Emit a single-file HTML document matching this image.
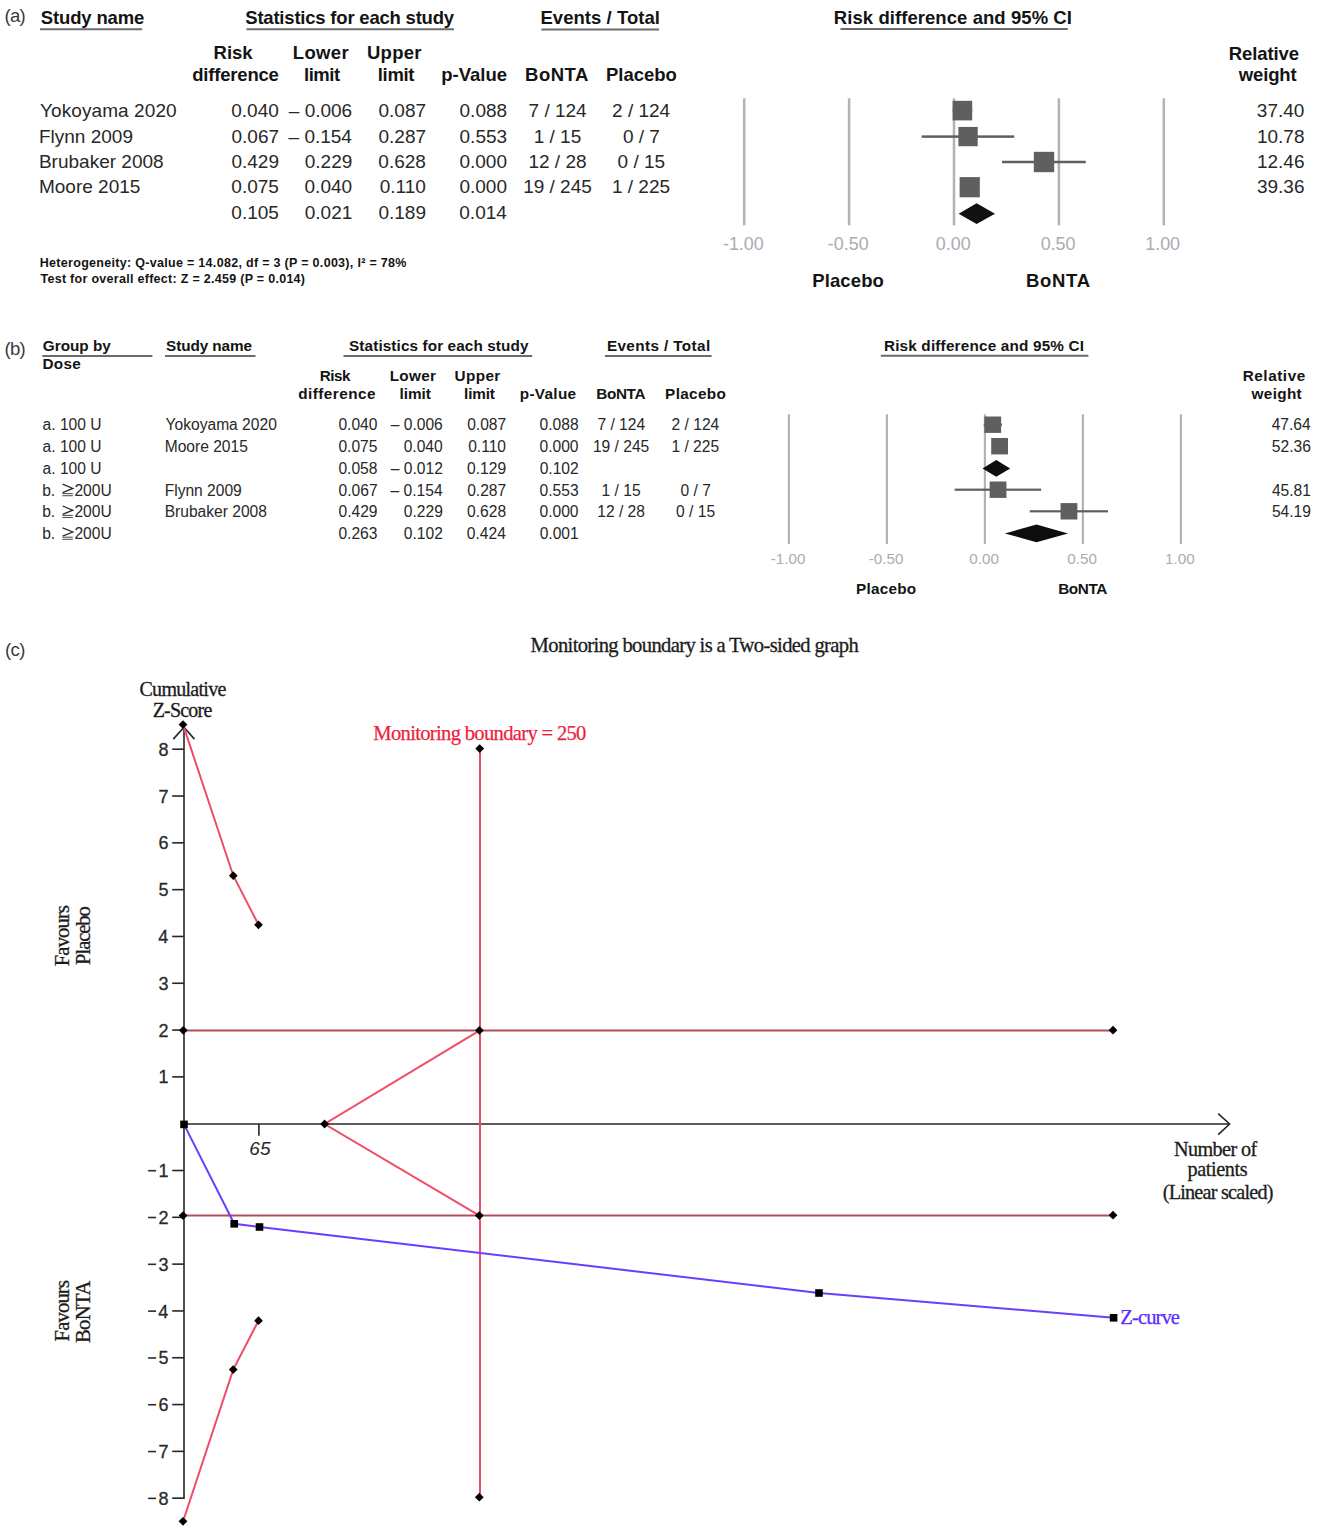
<!DOCTYPE html>
<html><head><meta charset="utf-8"><title>Figure</title>
<style>html,body{margin:0;padding:0;background:#fff;}svg{display:block;}</style></head>
<body><svg width="1323" height="1533" viewBox="0 0 1323 1533">
<rect width="1323" height="1533" fill="#fff"/>
<text x="4.55" y="21.70" font-family="'Liberation Sans',sans-serif" font-weight="normal" font-size="18.6" fill="#3c3c3c" textLength="21.08" lengthAdjust="spacing">(a)</text>
<text x="40.75" y="24.20" font-family="'Liberation Sans',sans-serif" font-weight="bold" font-size="18.5" fill="#141414" textLength="103.61" lengthAdjust="spacing">Study name</text>
<line x1="40.00" y1="29.20" x2="142.20" y2="29.20" stroke="#6b6b6b" stroke-width="2"/>
<text x="245.25" y="24.40" font-family="'Liberation Sans',sans-serif" font-weight="bold" font-size="18.5" fill="#141414" textLength="208.85" lengthAdjust="spacing">Statistics for each study</text>
<line x1="246.50" y1="29.30" x2="453.90" y2="29.30" stroke="#6b6b6b" stroke-width="2"/>
<text x="540.45" y="24.40" font-family="'Liberation Sans',sans-serif" font-weight="bold" font-size="18.5" fill="#141414" textLength="119.56" lengthAdjust="spacing">Events / Total</text>
<line x1="541.40" y1="29.40" x2="659.00" y2="29.40" stroke="#6b6b6b" stroke-width="2"/>
<text x="833.85" y="24.40" font-family="'Liberation Sans',sans-serif" font-weight="bold" font-size="18.5" fill="#141414" textLength="238.07" lengthAdjust="spacing">Risk difference and 95% CI</text>
<line x1="840.50" y1="29.10" x2="1067.80" y2="29.10" stroke="#6b6b6b" stroke-width="2"/>
<text x="213.55" y="59.40" font-family="'Liberation Sans',sans-serif" font-weight="bold" font-size="18.5" fill="#141414">Risk</text>
<text x="192.15" y="81.40" font-family="'Liberation Sans',sans-serif" font-weight="bold" font-size="18.5" fill="#141414" textLength="86.77" lengthAdjust="spacing">difference</text>
<text x="292.75" y="59.40" font-family="'Liberation Sans',sans-serif" font-weight="bold" font-size="18.5" fill="#141414" textLength="55.93" lengthAdjust="spacing">Lower</text>
<text x="304.00" y="81.40" font-family="'Liberation Sans',sans-serif" font-weight="bold" font-size="18.5" fill="#141414" textLength="36.23" lengthAdjust="spacing">limit</text>
<text x="367.00" y="59.40" font-family="'Liberation Sans',sans-serif" font-weight="bold" font-size="18.5" fill="#141414" textLength="54.40" lengthAdjust="spacing">Upper</text>
<text x="377.80" y="81.40" font-family="'Liberation Sans',sans-serif" font-weight="bold" font-size="18.5" fill="#141414" textLength="36.73" lengthAdjust="spacing">limit</text>
<text x="441.30" y="81.40" font-family="'Liberation Sans',sans-serif" font-weight="bold" font-size="18.5" fill="#141414">p-Value</text>
<text x="525.05" y="81.40" font-family="'Liberation Sans',sans-serif" font-weight="bold" font-size="18.5" fill="#141414" textLength="63.36" lengthAdjust="spacing">BoNTA</text>
<text x="605.95" y="81.40" font-family="'Liberation Sans',sans-serif" font-weight="bold" font-size="18.5" fill="#141414">Placebo</text>
<text x="1228.85" y="59.80" font-family="'Liberation Sans',sans-serif" font-weight="bold" font-size="18.5" fill="#141414" textLength="70.21" lengthAdjust="spacing">Relative</text>
<text x="1238.75" y="81.40" font-family="'Liberation Sans',sans-serif" font-weight="bold" font-size="18.5" fill="#141414" textLength="57.98" lengthAdjust="spacing">weight</text>
<text x="40.05" y="117.40" font-family="'Liberation Sans',sans-serif" font-weight="normal" font-size="19" fill="#282828" textLength="136.57" lengthAdjust="spacing">Yokoyama 2020</text>
<text x="231.25" y="117.40" font-family="'Liberation Sans',sans-serif" font-weight="normal" font-size="19.0" fill="#282828">0.040</text>
<text x="288.80" y="117.40" font-family="'Liberation Sans',sans-serif" font-weight="normal" font-size="19.0" fill="#282828">– 0.006</text>
<text x="378.50" y="117.40" font-family="'Liberation Sans',sans-serif" font-weight="normal" font-size="19.0" fill="#282828">0.087</text>
<text x="459.55" y="117.40" font-family="'Liberation Sans',sans-serif" font-weight="normal" font-size="19.0" fill="#282828">0.088</text>
<text x="528.55" y="117.40" font-family="'Liberation Sans',sans-serif" font-weight="normal" font-size="19.0" fill="#282828">7 / 124</text>
<text x="612.05" y="117.40" font-family="'Liberation Sans',sans-serif" font-weight="normal" font-size="19.0" fill="#282828">2 / 124</text>
<text x="1256.85" y="117.40" font-family="'Liberation Sans',sans-serif" font-weight="normal" font-size="19.0" fill="#282828">37.40</text>
<text x="38.95" y="142.70" font-family="'Liberation Sans',sans-serif" font-weight="normal" font-size="19" fill="#282828">Flynn 2009</text>
<text x="231.50" y="142.70" font-family="'Liberation Sans',sans-serif" font-weight="normal" font-size="19.0" fill="#282828">0.067</text>
<text x="288.55" y="142.70" font-family="'Liberation Sans',sans-serif" font-weight="normal" font-size="19.0" fill="#282828">– 0.154</text>
<text x="378.50" y="142.70" font-family="'Liberation Sans',sans-serif" font-weight="normal" font-size="19.0" fill="#282828">0.287</text>
<text x="459.55" y="142.70" font-family="'Liberation Sans',sans-serif" font-weight="normal" font-size="19.0" fill="#282828">0.553</text>
<text x="533.72" y="142.70" font-family="'Liberation Sans',sans-serif" font-weight="normal" font-size="19.0" fill="#282828">1 / 15</text>
<text x="622.92" y="142.70" font-family="'Liberation Sans',sans-serif" font-weight="normal" font-size="19.0" fill="#282828">0 / 7</text>
<text x="1256.95" y="142.70" font-family="'Liberation Sans',sans-serif" font-weight="normal" font-size="19.0" fill="#282828">10.78</text>
<text x="38.95" y="168.00" font-family="'Liberation Sans',sans-serif" font-weight="normal" font-size="19" fill="#282828">Brubaker 2008</text>
<text x="231.45" y="168.00" font-family="'Liberation Sans',sans-serif" font-weight="normal" font-size="19.0" fill="#282828">0.429</text>
<text x="304.75" y="168.00" font-family="'Liberation Sans',sans-serif" font-weight="normal" font-size="19.0" fill="#282828">0.229</text>
<text x="378.35" y="168.00" font-family="'Liberation Sans',sans-serif" font-weight="normal" font-size="19.0" fill="#282828">0.628</text>
<text x="459.45" y="168.00" font-family="'Liberation Sans',sans-serif" font-weight="normal" font-size="19.0" fill="#282828">0.000</text>
<text x="528.42" y="168.00" font-family="'Liberation Sans',sans-serif" font-weight="normal" font-size="19.0" fill="#282828">12 / 28</text>
<text x="617.57" y="168.00" font-family="'Liberation Sans',sans-serif" font-weight="normal" font-size="19.0" fill="#282828">0 / 15</text>
<text x="1256.95" y="168.00" font-family="'Liberation Sans',sans-serif" font-weight="normal" font-size="19.0" fill="#282828">12.46</text>
<text x="38.95" y="193.30" font-family="'Liberation Sans',sans-serif" font-weight="normal" font-size="19" fill="#282828">Moore 2015</text>
<text x="231.35" y="193.30" font-family="'Liberation Sans',sans-serif" font-weight="normal" font-size="19.0" fill="#282828">0.075</text>
<text x="304.55" y="193.30" font-family="'Liberation Sans',sans-serif" font-weight="normal" font-size="19.0" fill="#282828">0.040</text>
<text x="379.70" y="193.30" font-family="'Liberation Sans',sans-serif" font-weight="normal" font-size="19.0" fill="#282828">0.110</text>
<text x="459.45" y="193.30" font-family="'Liberation Sans',sans-serif" font-weight="normal" font-size="19.0" fill="#282828">0.000</text>
<text x="523.15" y="193.30" font-family="'Liberation Sans',sans-serif" font-weight="normal" font-size="19.0" fill="#282828">19 / 245</text>
<text x="611.92" y="193.30" font-family="'Liberation Sans',sans-serif" font-weight="normal" font-size="19.0" fill="#282828">1 / 225</text>
<text x="1256.95" y="193.30" font-family="'Liberation Sans',sans-serif" font-weight="normal" font-size="19.0" fill="#282828">39.36</text>
<text x="231.35" y="218.60" font-family="'Liberation Sans',sans-serif" font-weight="normal" font-size="19.0" fill="#282828">0.105</text>
<text x="304.75" y="218.60" font-family="'Liberation Sans',sans-serif" font-weight="normal" font-size="19.0" fill="#282828">0.021</text>
<text x="378.45" y="218.60" font-family="'Liberation Sans',sans-serif" font-weight="normal" font-size="19.0" fill="#282828">0.189</text>
<text x="459.30" y="218.60" font-family="'Liberation Sans',sans-serif" font-weight="normal" font-size="19.0" fill="#282828">0.014</text>
<rect x="742.95" y="98.3" width="2.5" height="127" fill="#b3b3b3"/>
<rect x="847.85" y="98.3" width="2.5" height="127" fill="#b3b3b3"/>
<rect x="952.75" y="98.3" width="2.5" height="127" fill="#b3b3b3"/>
<rect x="1057.65" y="98.3" width="2.5" height="127" fill="#b3b3b3"/>
<rect x="1162.55" y="98.3" width="2.5" height="127" fill="#b3b3b3"/>
<rect x="952.74" y="109.35" width="19.51" height="2.5" fill="#5f5f5f"/>
<rect x="952.59" y="100.80" width="19.60" height="19.60" fill="#5f5f5f"/>
<rect x="921.69" y="135.35" width="92.52" height="2.5" fill="#5f5f5f"/>
<rect x="958.41" y="126.95" width="19.30" height="19.30" fill="#5f5f5f"/>
<rect x="1002.04" y="160.75" width="83.71" height="2.5" fill="#5f5f5f"/>
<rect x="1033.80" y="151.80" width="20.40" height="20.40" fill="#5f5f5f"/>
<rect x="962.39" y="185.95" width="14.69" height="2.5" fill="#5f5f5f"/>
<rect x="959.63" y="177.10" width="20.20" height="20.20" fill="#5f5f5f"/>
<polygon points="958.60,213.70 976.63,203.30 995.00,213.70 976.63,224.10" fill="#111"/>
<text x="722.95" y="250.00" font-family="'Liberation Sans',sans-serif" font-weight="normal" font-size="17.9" fill="#a9acb2">-1.00</text>
<text x="827.85" y="250.00" font-family="'Liberation Sans',sans-serif" font-weight="normal" font-size="17.9" fill="#a9acb2">-0.50</text>
<text x="935.77" y="250.00" font-family="'Liberation Sans',sans-serif" font-weight="normal" font-size="17.9" fill="#a9acb2">0.00</text>
<text x="1040.68" y="250.00" font-family="'Liberation Sans',sans-serif" font-weight="normal" font-size="17.9" fill="#a9acb2">0.50</text>
<text x="1145.25" y="250.00" font-family="'Liberation Sans',sans-serif" font-weight="normal" font-size="17.9" fill="#a9acb2">1.00</text>
<text x="812.25" y="287.00" font-family="'Liberation Sans',sans-serif" font-weight="bold" font-size="18.5" fill="#141414" textLength="71.65" lengthAdjust="spacing">Placebo</text>
<text x="1025.95" y="287.00" font-family="'Liberation Sans',sans-serif" font-weight="bold" font-size="18.5" fill="#141414" textLength="64.06" lengthAdjust="spacing">BoNTA</text>
<text x="39.75" y="266.80" font-family="'Liberation Sans',sans-serif" font-weight="bold" font-size="12.5" fill="#141414" textLength="366.68" lengthAdjust="spacing">Heterogeneity: Q-value = 14.082, df = 3 (P = 0.003), I² = 78%</text>
<text x="40.45" y="282.60" font-family="'Liberation Sans',sans-serif" font-weight="bold" font-size="12.5" fill="#141414" textLength="264.57" lengthAdjust="spacing">Test for overall effect: Z = 2.459 (P = 0.014)</text>
<text x="4.55" y="354.90" font-family="'Liberation Sans',sans-serif" font-weight="normal" font-size="18.6" fill="#3c3c3c" textLength="21.08" lengthAdjust="spacing">(b)</text>
<text x="42.80" y="351.30" font-family="'Liberation Sans',sans-serif" font-weight="bold" font-size="15.3" fill="#141414">Group by</text>
<text x="42.40" y="369.20" font-family="'Liberation Sans',sans-serif" font-weight="bold" font-size="15.3" fill="#141414" textLength="38.31" lengthAdjust="spacing">Dose</text>
<line x1="42.40" y1="356.00" x2="152.40" y2="356.00" stroke="#6b6b6b" stroke-width="2"/>
<text x="166.05" y="351.30" font-family="'Liberation Sans',sans-serif" font-weight="bold" font-size="15.3" fill="#141414" textLength="85.87" lengthAdjust="spacing">Study name</text>
<line x1="165.00" y1="356.00" x2="255.50" y2="356.00" stroke="#6b6b6b" stroke-width="2"/>
<text x="349.05" y="351.30" font-family="'Liberation Sans',sans-serif" font-weight="bold" font-size="15.3" fill="#141414" textLength="179.46" lengthAdjust="spacing">Statistics for each study</text>
<line x1="343.50" y1="356.00" x2="532.20" y2="356.00" stroke="#6b6b6b" stroke-width="2"/>
<text x="606.90" y="351.30" font-family="'Liberation Sans',sans-serif" font-weight="bold" font-size="15.3" fill="#141414" textLength="103.29" lengthAdjust="spacing">Events / Total</text>
<line x1="604.90" y1="356.00" x2="711.60" y2="356.00" stroke="#6b6b6b" stroke-width="2"/>
<text x="883.90" y="351.30" font-family="'Liberation Sans',sans-serif" font-weight="bold" font-size="15.3" fill="#141414" textLength="200.12" lengthAdjust="spacing">Risk difference and 95% CI</text>
<line x1="880.80" y1="355.80" x2="1088.40" y2="355.80" stroke="#6b6b6b" stroke-width="2"/>
<text x="319.70" y="381.10" font-family="'Liberation Sans',sans-serif" font-weight="bold" font-size="15.3" fill="#141414" textLength="30.72" lengthAdjust="spacing">Risk</text>
<text x="298.30" y="399.30" font-family="'Liberation Sans',sans-serif" font-weight="bold" font-size="15.3" fill="#141414" textLength="77.12" lengthAdjust="spacing">difference</text>
<text x="389.70" y="381.10" font-family="'Liberation Sans',sans-serif" font-weight="bold" font-size="15.3" fill="#141414" textLength="46.21" lengthAdjust="spacing">Lower</text>
<text x="399.45" y="399.30" font-family="'Liberation Sans',sans-serif" font-weight="bold" font-size="15.3" fill="#141414">limit</text>
<text x="454.40" y="381.10" font-family="'Liberation Sans',sans-serif" font-weight="bold" font-size="15.3" fill="#141414" textLength="45.90" lengthAdjust="spacing">Upper</text>
<text x="464.05" y="399.30" font-family="'Liberation Sans',sans-serif" font-weight="bold" font-size="15.3" fill="#141414" textLength="30.85" lengthAdjust="spacing">limit</text>
<text x="519.70" y="399.30" font-family="'Liberation Sans',sans-serif" font-weight="bold" font-size="15.3" fill="#141414" textLength="56.42" lengthAdjust="spacing">p-Value</text>
<text x="596.30" y="399.30" font-family="'Liberation Sans',sans-serif" font-weight="bold" font-size="15.3" fill="#141414" textLength="49.20" lengthAdjust="spacing">BoNTA</text>
<text x="665.10" y="399.30" font-family="'Liberation Sans',sans-serif" font-weight="bold" font-size="15.3" fill="#141414" textLength="60.68" lengthAdjust="spacing">Placebo</text>
<text x="1242.70" y="381.10" font-family="'Liberation Sans',sans-serif" font-weight="bold" font-size="15.3" fill="#141414" textLength="62.53" lengthAdjust="spacing">Relative</text>
<text x="1251.55" y="399.30" font-family="'Liberation Sans',sans-serif" font-weight="bold" font-size="15.3" fill="#141414" textLength="50.15" lengthAdjust="spacing">weight</text>
<text x="42.55" y="430.10" font-family="'Liberation Sans',sans-serif" font-weight="normal" font-size="15.6" fill="#282828">a. 100 U</text>
<text x="165.55" y="430.10" font-family="'Liberation Sans',sans-serif" font-weight="normal" font-size="15.6" fill="#282828">Yokoyama 2020</text>
<text x="338.40" y="430.10" font-family="'Liberation Sans',sans-serif" font-weight="normal" font-size="15.6" fill="#282828">0.040</text>
<text x="390.75" y="430.10" font-family="'Liberation Sans',sans-serif" font-weight="normal" font-size="15.6" fill="#282828">– 0.006</text>
<text x="467.15" y="430.10" font-family="'Liberation Sans',sans-serif" font-weight="normal" font-size="15.6" fill="#282828">0.087</text>
<text x="539.55" y="430.10" font-family="'Liberation Sans',sans-serif" font-weight="normal" font-size="15.6" fill="#282828">0.088</text>
<text x="597.38" y="430.10" font-family="'Liberation Sans',sans-serif" font-weight="normal" font-size="15.6" fill="#282828">7 / 124</text>
<text x="671.58" y="430.10" font-family="'Liberation Sans',sans-serif" font-weight="normal" font-size="15.6" fill="#282828">2 / 124</text>
<text x="1271.65" y="430.10" font-family="'Liberation Sans',sans-serif" font-weight="normal" font-size="15.6" fill="#282828">47.64</text>
<text x="42.55" y="451.90" font-family="'Liberation Sans',sans-serif" font-weight="normal" font-size="15.6" fill="#282828">a. 100 U</text>
<text x="164.65" y="451.90" font-family="'Liberation Sans',sans-serif" font-weight="normal" font-size="15.6" fill="#282828">Moore 2015</text>
<text x="338.40" y="451.90" font-family="'Liberation Sans',sans-serif" font-weight="normal" font-size="15.6" fill="#282828">0.075</text>
<text x="403.70" y="451.90" font-family="'Liberation Sans',sans-serif" font-weight="normal" font-size="15.6" fill="#282828">0.040</text>
<text x="468.15" y="451.90" font-family="'Liberation Sans',sans-serif" font-weight="normal" font-size="15.6" fill="#282828">0.110</text>
<text x="539.50" y="451.90" font-family="'Liberation Sans',sans-serif" font-weight="normal" font-size="15.6" fill="#282828">0.000</text>
<text x="592.92" y="451.90" font-family="'Liberation Sans',sans-serif" font-weight="normal" font-size="15.6" fill="#282828">19 / 245</text>
<text x="671.45" y="451.90" font-family="'Liberation Sans',sans-serif" font-weight="normal" font-size="15.6" fill="#282828">1 / 225</text>
<text x="1271.85" y="451.90" font-family="'Liberation Sans',sans-serif" font-weight="normal" font-size="15.6" fill="#282828">52.36</text>
<text x="42.55" y="473.70" font-family="'Liberation Sans',sans-serif" font-weight="normal" font-size="15.6" fill="#282828">a. 100 U</text>
<text x="338.45" y="473.70" font-family="'Liberation Sans',sans-serif" font-weight="normal" font-size="15.6" fill="#282828">0.058</text>
<text x="390.85" y="473.70" font-family="'Liberation Sans',sans-serif" font-weight="normal" font-size="15.6" fill="#282828">– 0.012</text>
<text x="467.10" y="473.70" font-family="'Liberation Sans',sans-serif" font-weight="normal" font-size="15.6" fill="#282828">0.129</text>
<text x="539.65" y="473.70" font-family="'Liberation Sans',sans-serif" font-weight="normal" font-size="15.6" fill="#282828">0.102</text>
<text x="42.20" y="495.50" font-family="'Liberation Sans',sans-serif" font-weight="normal" font-size="15.6" fill="#282828">b.</text>
<polyline points="62.60,484.20 72.80,488.40 62.60,492.60" fill="none" stroke="#2a2a2a" stroke-width="1.3"/>
<line x1="62.40" y1="493.60" x2="72.80" y2="493.60" stroke="#555" stroke-width="1.1"/>
<line x1="62.40" y1="495.70" x2="72.80" y2="495.70" stroke="#555" stroke-width="1.1"/>
<text x="74.40" y="495.50" font-family="'Liberation Sans',sans-serif" font-weight="normal" font-size="15.6" fill="#282828">200U</text>
<text x="164.65" y="495.50" font-family="'Liberation Sans',sans-serif" font-weight="normal" font-size="15.6" fill="#282828">Flynn 2009</text>
<text x="338.55" y="495.50" font-family="'Liberation Sans',sans-serif" font-weight="normal" font-size="15.6" fill="#282828">0.067</text>
<text x="390.55" y="495.50" font-family="'Liberation Sans',sans-serif" font-weight="normal" font-size="15.6" fill="#282828">– 0.154</text>
<text x="467.15" y="495.50" font-family="'Liberation Sans',sans-serif" font-weight="normal" font-size="15.6" fill="#282828">0.287</text>
<text x="539.55" y="495.50" font-family="'Liberation Sans',sans-serif" font-weight="normal" font-size="15.6" fill="#282828">0.553</text>
<text x="601.60" y="495.50" font-family="'Liberation Sans',sans-serif" font-weight="normal" font-size="15.6" fill="#282828">1 / 15</text>
<text x="680.50" y="495.50" font-family="'Liberation Sans',sans-serif" font-weight="normal" font-size="15.6" fill="#282828">0 / 7</text>
<text x="1271.95" y="495.50" font-family="'Liberation Sans',sans-serif" font-weight="normal" font-size="15.6" fill="#282828">45.81</text>
<text x="42.20" y="517.30" font-family="'Liberation Sans',sans-serif" font-weight="normal" font-size="15.6" fill="#282828">b.</text>
<polyline points="62.60,506.00 72.80,510.20 62.60,514.40" fill="none" stroke="#2a2a2a" stroke-width="1.3"/>
<line x1="62.40" y1="515.40" x2="72.80" y2="515.40" stroke="#555" stroke-width="1.1"/>
<line x1="62.40" y1="517.50" x2="72.80" y2="517.50" stroke="#555" stroke-width="1.1"/>
<text x="74.40" y="517.30" font-family="'Liberation Sans',sans-serif" font-weight="normal" font-size="15.6" fill="#282828">200U</text>
<text x="164.65" y="517.30" font-family="'Liberation Sans',sans-serif" font-weight="normal" font-size="15.6" fill="#282828">Brubaker 2008</text>
<text x="338.50" y="517.30" font-family="'Liberation Sans',sans-serif" font-weight="normal" font-size="15.6" fill="#282828">0.429</text>
<text x="403.80" y="517.30" font-family="'Liberation Sans',sans-serif" font-weight="normal" font-size="15.6" fill="#282828">0.229</text>
<text x="467.05" y="517.30" font-family="'Liberation Sans',sans-serif" font-weight="normal" font-size="15.6" fill="#282828">0.628</text>
<text x="539.50" y="517.30" font-family="'Liberation Sans',sans-serif" font-weight="normal" font-size="15.6" fill="#282828">0.000</text>
<text x="597.27" y="517.30" font-family="'Liberation Sans',sans-serif" font-weight="normal" font-size="15.6" fill="#282828">12 / 28</text>
<text x="676.10" y="517.30" font-family="'Liberation Sans',sans-serif" font-weight="normal" font-size="15.6" fill="#282828">0 / 15</text>
<text x="1271.90" y="517.30" font-family="'Liberation Sans',sans-serif" font-weight="normal" font-size="15.6" fill="#282828">54.19</text>
<text x="42.20" y="539.10" font-family="'Liberation Sans',sans-serif" font-weight="normal" font-size="15.6" fill="#282828">b.</text>
<polyline points="62.60,527.80 72.80,532.00 62.60,536.20" fill="none" stroke="#2a2a2a" stroke-width="1.3"/>
<line x1="62.40" y1="537.20" x2="72.80" y2="537.20" stroke="#555" stroke-width="1.1"/>
<line x1="62.40" y1="539.30" x2="72.80" y2="539.30" stroke="#555" stroke-width="1.1"/>
<text x="74.40" y="539.10" font-family="'Liberation Sans',sans-serif" font-weight="normal" font-size="15.6" fill="#282828">200U</text>
<text x="338.45" y="539.10" font-family="'Liberation Sans',sans-serif" font-weight="normal" font-size="15.6" fill="#282828">0.263</text>
<text x="403.85" y="539.10" font-family="'Liberation Sans',sans-serif" font-weight="normal" font-size="15.6" fill="#282828">0.102</text>
<text x="466.85" y="539.10" font-family="'Liberation Sans',sans-serif" font-weight="normal" font-size="15.6" fill="#282828">0.424</text>
<text x="539.65" y="539.10" font-family="'Liberation Sans',sans-serif" font-weight="normal" font-size="15.6" fill="#282828">0.001</text>
<rect x="787.80" y="414.3" width="2.2" height="129.7" fill="#b3b3b3"/>
<rect x="885.80" y="414.3" width="2.2" height="129.7" fill="#b3b3b3"/>
<rect x="983.80" y="414.3" width="2.2" height="129.7" fill="#b3b3b3"/>
<rect x="1081.80" y="414.3" width="2.2" height="129.7" fill="#b3b3b3"/>
<rect x="1179.80" y="414.3" width="2.2" height="129.7" fill="#b3b3b3"/>
<rect x="983.72" y="423.60" width="18.23" height="2.2" fill="#5f5f5f"/>
<rect x="984.34" y="416.50" width="16.80" height="16.40" fill="#5f5f5f"/>
<rect x="992.74" y="445.10" width="13.72" height="2.2" fill="#5f5f5f"/>
<rect x="991.20" y="438.00" width="16.80" height="16.40" fill="#5f5f5f"/>
<rect x="954.72" y="488.60" width="86.44" height="2.2" fill="#5f5f5f"/>
<rect x="989.63" y="481.50" width="16.80" height="16.40" fill="#5f5f5f"/>
<rect x="1029.78" y="510.20" width="78.20" height="2.2" fill="#5f5f5f"/>
<rect x="1060.58" y="503.10" width="16.80" height="16.40" fill="#5f5f5f"/>
<polygon points="982.55,468.40 996.27,460.10 1010.18,468.40 996.27,476.70" fill="#0d0d0d"/>
<polygon points="1004.89,533.40 1036.45,524.60 1068.00,533.40 1036.45,542.20" fill="#0d0d0d"/>
<text x="770.75" y="564.20" font-family="'Liberation Sans',sans-serif" font-weight="normal" font-size="15.2" fill="#a9acb2">-1.00</text>
<text x="868.75" y="564.20" font-family="'Liberation Sans',sans-serif" font-weight="normal" font-size="15.2" fill="#a9acb2">-0.50</text>
<text x="969.30" y="564.20" font-family="'Liberation Sans',sans-serif" font-weight="normal" font-size="15.2" fill="#a9acb2">0.00</text>
<text x="1067.30" y="564.20" font-family="'Liberation Sans',sans-serif" font-weight="normal" font-size="15.2" fill="#a9acb2">0.50</text>
<text x="1165.03" y="564.20" font-family="'Liberation Sans',sans-serif" font-weight="normal" font-size="15.2" fill="#a9acb2">1.00</text>
<text x="856.10" y="594.10" font-family="'Liberation Sans',sans-serif" font-weight="bold" font-size="15.3" fill="#141414" textLength="59.98" lengthAdjust="spacing">Placebo</text>
<text x="1058.20" y="594.10" font-family="'Liberation Sans',sans-serif" font-weight="bold" font-size="15.3" fill="#141414" textLength="49.20" lengthAdjust="spacing">BoNTA</text>
<text x="4.95" y="656.00" font-family="'Liberation Sans',sans-serif" font-weight="normal" font-size="18.6" fill="#3c3c3c" textLength="20.49" lengthAdjust="spacing">(c)</text>
<text x="530.60" y="652.20" font-family="'Liberation Serif',serif" font-weight="normal" font-size="20.6" fill="#1c1c1c" textLength="328.13" lengthAdjust="spacing" stroke="#1c1c1c" stroke-width="0.3">Monitoring boundary is a Two-sided graph</text>
<text x="139.50" y="695.80" font-family="'Liberation Serif',serif" font-weight="normal" font-size="20" fill="#1c1c1c" textLength="86.87" lengthAdjust="spacing" stroke="#1c1c1c" stroke-width="0.3">Cumulative</text>
<text x="152.65" y="716.50" font-family="'Liberation Serif',serif" font-weight="normal" font-size="20" fill="#1c1c1c" textLength="59.62" lengthAdjust="spacing" stroke="#1c1c1c" stroke-width="0.3">Z-Score</text>
<line x1="184.00" y1="727.50" x2="184.00" y2="1498.98" stroke="#262626" stroke-width="1.6"/>
<polyline points="173.30,739.10 184.00,727.20 194.40,739.10" fill="none" stroke="#262626" stroke-width="1.6"/>
<line x1="172.20" y1="1076.89" x2="184.00" y2="1076.89" stroke="#262626" stroke-width="1.6"/>
<text x="158.55" y="1083.49" font-family="'Liberation Sans',sans-serif" font-weight="normal" font-size="18" fill="#2a2a2a" stroke="#2a2a2a" stroke-width="0.3">1</text>
<line x1="172.20" y1="1030.08" x2="184.00" y2="1030.08" stroke="#262626" stroke-width="1.6"/>
<text x="158.60" y="1036.68" font-family="'Liberation Sans',sans-serif" font-weight="normal" font-size="18" fill="#2a2a2a" stroke="#2a2a2a" stroke-width="0.3">2</text>
<line x1="172.20" y1="983.27" x2="184.00" y2="983.27" stroke="#262626" stroke-width="1.6"/>
<text x="158.50" y="989.87" font-family="'Liberation Sans',sans-serif" font-weight="normal" font-size="18" fill="#2a2a2a" stroke="#2a2a2a" stroke-width="0.3">3</text>
<line x1="172.20" y1="936.46" x2="184.00" y2="936.46" stroke="#262626" stroke-width="1.6"/>
<text x="158.20" y="943.06" font-family="'Liberation Sans',sans-serif" font-weight="normal" font-size="18" fill="#2a2a2a" stroke="#2a2a2a" stroke-width="0.3">4</text>
<line x1="172.20" y1="889.65" x2="184.00" y2="889.65" stroke="#262626" stroke-width="1.6"/>
<text x="158.45" y="896.25" font-family="'Liberation Sans',sans-serif" font-weight="normal" font-size="18" fill="#2a2a2a" stroke="#2a2a2a" stroke-width="0.3">5</text>
<line x1="172.20" y1="842.84" x2="184.00" y2="842.84" stroke="#262626" stroke-width="1.6"/>
<text x="158.50" y="849.44" font-family="'Liberation Sans',sans-serif" font-weight="normal" font-size="18" fill="#2a2a2a" stroke="#2a2a2a" stroke-width="0.3">6</text>
<line x1="172.20" y1="796.03" x2="184.00" y2="796.03" stroke="#262626" stroke-width="1.6"/>
<text x="158.60" y="802.63" font-family="'Liberation Sans',sans-serif" font-weight="normal" font-size="18" fill="#2a2a2a" stroke="#2a2a2a" stroke-width="0.3">7</text>
<line x1="172.20" y1="749.22" x2="184.00" y2="749.22" stroke="#262626" stroke-width="1.6"/>
<text x="158.45" y="755.82" font-family="'Liberation Sans',sans-serif" font-weight="normal" font-size="18" fill="#2a2a2a" stroke="#2a2a2a" stroke-width="0.3">8</text>
<line x1="172.20" y1="1498.18" x2="184.00" y2="1498.18" stroke="#262626" stroke-width="1.6"/>
<text x="158.45" y="1504.78" font-family="'Liberation Sans',sans-serif" font-weight="normal" font-size="18" fill="#2a2a2a" stroke="#2a2a2a" stroke-width="0.3">8</text>
<line x1="148.10" y1="1498.38" x2="156.10" y2="1498.38" stroke="#2a2a2a" stroke-width="1.6"/>
<line x1="172.20" y1="1451.37" x2="184.00" y2="1451.37" stroke="#262626" stroke-width="1.6"/>
<text x="158.60" y="1457.97" font-family="'Liberation Sans',sans-serif" font-weight="normal" font-size="18" fill="#2a2a2a" stroke="#2a2a2a" stroke-width="0.3">7</text>
<line x1="148.10" y1="1451.57" x2="156.10" y2="1451.57" stroke="#2a2a2a" stroke-width="1.6"/>
<line x1="172.20" y1="1404.56" x2="184.00" y2="1404.56" stroke="#262626" stroke-width="1.6"/>
<text x="158.50" y="1411.16" font-family="'Liberation Sans',sans-serif" font-weight="normal" font-size="18" fill="#2a2a2a" stroke="#2a2a2a" stroke-width="0.3">6</text>
<line x1="148.10" y1="1404.76" x2="156.10" y2="1404.76" stroke="#2a2a2a" stroke-width="1.6"/>
<line x1="172.20" y1="1357.75" x2="184.00" y2="1357.75" stroke="#262626" stroke-width="1.6"/>
<text x="158.45" y="1364.35" font-family="'Liberation Sans',sans-serif" font-weight="normal" font-size="18" fill="#2a2a2a" stroke="#2a2a2a" stroke-width="0.3">5</text>
<line x1="148.10" y1="1357.95" x2="156.10" y2="1357.95" stroke="#2a2a2a" stroke-width="1.6"/>
<line x1="172.20" y1="1310.94" x2="184.00" y2="1310.94" stroke="#262626" stroke-width="1.6"/>
<text x="158.20" y="1317.54" font-family="'Liberation Sans',sans-serif" font-weight="normal" font-size="18" fill="#2a2a2a" stroke="#2a2a2a" stroke-width="0.3">4</text>
<line x1="148.10" y1="1311.14" x2="156.10" y2="1311.14" stroke="#2a2a2a" stroke-width="1.6"/>
<line x1="172.20" y1="1264.13" x2="184.00" y2="1264.13" stroke="#262626" stroke-width="1.6"/>
<text x="158.50" y="1270.73" font-family="'Liberation Sans',sans-serif" font-weight="normal" font-size="18" fill="#2a2a2a" stroke="#2a2a2a" stroke-width="0.3">3</text>
<line x1="148.10" y1="1264.33" x2="156.10" y2="1264.33" stroke="#2a2a2a" stroke-width="1.6"/>
<line x1="172.20" y1="1217.32" x2="184.00" y2="1217.32" stroke="#262626" stroke-width="1.6"/>
<text x="158.60" y="1223.92" font-family="'Liberation Sans',sans-serif" font-weight="normal" font-size="18" fill="#2a2a2a" stroke="#2a2a2a" stroke-width="0.3">2</text>
<line x1="148.10" y1="1217.52" x2="156.10" y2="1217.52" stroke="#2a2a2a" stroke-width="1.6"/>
<line x1="172.20" y1="1170.51" x2="184.00" y2="1170.51" stroke="#262626" stroke-width="1.6"/>
<text x="158.55" y="1177.11" font-family="'Liberation Sans',sans-serif" font-weight="normal" font-size="18" fill="#2a2a2a" stroke="#2a2a2a" stroke-width="0.3">1</text>
<line x1="148.10" y1="1170.71" x2="156.10" y2="1170.71" stroke="#2a2a2a" stroke-width="1.6"/>
<line x1="184.00" y1="1124.00" x2="1229.00" y2="1124.00" stroke="#262626" stroke-width="1.6"/>
<polyline points="1218.20,1113.60 1229.60,1124.00 1218.20,1134.60" fill="none" stroke="#262626" stroke-width="1.6"/>
<line x1="258.90" y1="1124.00" x2="258.90" y2="1135.70" stroke="#262626" stroke-width="1.6"/>
<text x="249.35" y="1154.90" font-family="'Liberation Sans',sans-serif" font-weight="normal" font-size="19" fill="#2a2a2a" font-style="italic">65</text>
<text x="1174.10" y="1156.30" font-family="'Liberation Serif',serif" font-weight="normal" font-size="20.2" fill="#1c1c1c" textLength="83.07" lengthAdjust="spacing" stroke="#1c1c1c" stroke-width="0.3">Number of</text>
<text x="1187.50" y="1176.40" font-family="'Liberation Serif',serif" font-weight="normal" font-size="20.2" fill="#1c1c1c" textLength="60.13" lengthAdjust="spacing" stroke="#1c1c1c" stroke-width="0.3">patients</text>
<text x="1162.70" y="1198.70" font-family="'Liberation Serif',serif" font-weight="normal" font-size="20.2" fill="#1c1c1c" textLength="110.78" lengthAdjust="spacing" stroke="#1c1c1c" stroke-width="0.3">(Linear scaled)</text>
<text transform="translate(69.30,966.30) rotate(-90)" x="0" y="0" font-family="'Liberation Serif',serif" font-size="20.6" fill="#1c1c1c" textLength="61.43" lengthAdjust="spacing" stroke="#1c1c1c" stroke-width="0.3">Favours</text>
<text transform="translate(90.20,964.90) rotate(-90)" x="0" y="0" font-family="'Liberation Serif',serif" font-size="20.6" fill="#1c1c1c" textLength="58.71" lengthAdjust="spacing" stroke="#1c1c1c" stroke-width="0.3">Placebo</text>
<text transform="translate(69.10,1341.50) rotate(-90)" x="0" y="0" font-family="'Liberation Serif',serif" font-size="20.6" fill="#1c1c1c" textLength="61.43" lengthAdjust="spacing" stroke="#1c1c1c" stroke-width="0.3">Favours</text>
<text transform="translate(90.00,1343.10) rotate(-90)" x="0" y="0" font-family="'Liberation Serif',serif" font-size="20.6" fill="#1c1c1c" textLength="62.43" lengthAdjust="spacing" stroke="#1c1c1c" stroke-width="0.3">BoNTA</text>
<line x1="184.00" y1="1030.60" x2="1113.00" y2="1030.60" stroke="#b64d5d" stroke-width="2"/>
<line x1="184.00" y1="1215.60" x2="1113.00" y2="1215.60" stroke="#b64d5d" stroke-width="2"/>
<line x1="480.00" y1="748.60" x2="480.00" y2="1497.20" stroke="#f24b66" stroke-width="2"/>
<polyline points="479.40,1030.60 324.60,1124.00 479.40,1215.60" fill="none" stroke="#f24b66" stroke-width="2"/>
<polyline points="183.00,724.60 233.30,875.70 258.50,924.80" fill="none" stroke="#f24b66" stroke-width="2"/>
<polyline points="183.00,1521.50 233.20,1369.60 258.50,1320.70" fill="none" stroke="#f24b66" stroke-width="2"/>
<text x="373.30" y="740.40" font-family="'Liberation Serif',serif" font-weight="normal" font-size="20.6" fill="#ec1f3d" textLength="213.12" lengthAdjust="spacing" stroke="#ec1f3d" stroke-width="0.25">Monitoring boundary = 250</text>
<polyline points="184.00,1124.40 234.20,1223.80 259.50,1227.00 819.00,1293.00 1113.60,1317.80" fill="none" stroke="#6a3dff" stroke-width="2"/>
<text x="1120.30" y="1323.70" font-family="'Liberation Serif',serif" font-weight="normal" font-size="20.6" fill="#5b2cff" textLength="59.69" lengthAdjust="spacing" stroke="#5b2cff" stroke-width="0.25">Z-curve</text>
<polygon points="178.60,724.60 183.00,720.20 187.40,724.60 183.00,729.00" fill="#000"/>
<polygon points="228.90,875.70 233.30,871.30 237.70,875.70 233.30,880.10" fill="#000"/>
<polygon points="254.10,924.80 258.50,920.40 262.90,924.80 258.50,929.20" fill="#000"/>
<polygon points="178.60,1521.30 183.00,1516.90 187.40,1521.30 183.00,1525.70" fill="#000"/>
<polygon points="228.80,1369.60 233.20,1365.20 237.60,1369.60 233.20,1374.00" fill="#000"/>
<polygon points="254.10,1320.70 258.50,1316.30 262.90,1320.70 258.50,1325.10" fill="#000"/>
<polygon points="178.90,1030.30 183.30,1025.90 187.70,1030.30 183.30,1034.70" fill="#000"/>
<polygon points="475.00,1030.40 479.40,1026.00 483.80,1030.40 479.40,1034.80" fill="#000"/>
<polygon points="1108.60,1030.20 1113.00,1025.80 1117.40,1030.20 1113.00,1034.60" fill="#000"/>
<polygon points="178.70,1215.60 183.10,1211.20 187.50,1215.60 183.10,1220.00" fill="#000"/>
<polygon points="474.90,1215.60 479.30,1211.20 483.70,1215.60 479.30,1220.00" fill="#000"/>
<polygon points="1108.60,1215.20 1113.00,1210.80 1117.40,1215.20 1113.00,1219.60" fill="#000"/>
<polygon points="320.20,1124.00 324.60,1119.60 329.00,1124.00 324.60,1128.40" fill="#000"/>
<polygon points="475.30,748.60 479.70,744.20 484.10,748.60 479.70,753.00" fill="#000"/>
<polygon points="474.90,1497.20 479.30,1492.80 483.70,1497.20 479.30,1501.60" fill="#000"/>
<rect x="180.20" y="1120.60" width="7.60" height="7.60" fill="#000"/>
<rect x="230.40" y="1220.00" width="7.60" height="7.60" fill="#000"/>
<rect x="255.70" y="1223.20" width="7.60" height="7.60" fill="#000"/>
<rect x="815.20" y="1289.20" width="7.60" height="7.60" fill="#000"/>
<rect x="1109.80" y="1314.00" width="7.60" height="7.60" fill="#000"/>
</svg></body></html>
